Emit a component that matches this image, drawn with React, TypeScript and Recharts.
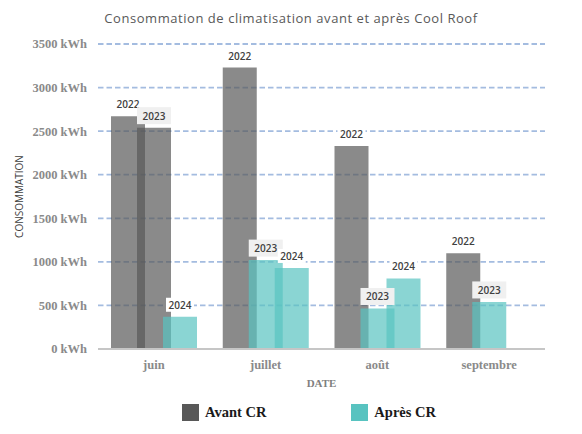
import React from 'react';
import { BarChart, Bar, XAxis, YAxis, CartesianGrid, Cell, LabelList, Legend, Label } from 'recharts';

const months = ['juin', 'juillet', 'août', 'septembre'];
const conso2022 = [2670, 3230, 2330, 1100];
const conso2023 = [2540, 1020, 465, 540];
const conso2024: (number | null)[] = [370, 930, 810, null];
const periode2022 = ['avant', 'avant', 'avant', 'avant'];
const periode2023 = ['avant', 'apres', 'apres', 'apres'];
const periode2024 = ['apres', 'apres', 'apres', 'apres'];
const yTicks = [0, 500, 1000, 1500, 2000, 2500, 3000, 3500];
const legendItems = [
  { key: 'avant', label: 'Avant CR' },
  { key: 'apres', label: 'Après CR' },
];

const COLORS: Record<string, string> = { avant: '#585858', apres: '#58c3c0' };
const BAR_OPACITY = 0.7;

const data = months.map((m, i) => ({
  month: m,
  y2022: conso2022[i],
  y2023: conso2023[i],
  y2024: conso2024[i],
}));

const series = [
  { key: 'y2022', name: '2022', periods: periode2022, bg: '#ffffff', boxH: 14, boxW: 28 },
  { key: 'y2023', name: '2023', periods: periode2023, bg: '#f0f0f0', boxH: 17, boxW: 34 },
  { key: 'y2024', name: '2024', periods: periode2024, bg: '#ffffff', boxH: 14, boxW: 28 },
];

const makeLabel = (text: string, bg: string, boxW: number, boxH: number) => (props: any) => {
  const { x, y, width, value } = props;
  if (value == null) return null;
  const cx = Number(x) + Number(width) / 2;
  const cy = Number(y) - 12;
  return (
    <g>
      <rect x={cx - boxW / 2} y={cy - boxH / 2} width={boxW} height={boxH} fill={bg} />
      <text
        x={cx}
        y={cy}
        textAnchor="middle"
        dominantBaseline="central"
        fontFamily="'Open Sans', sans-serif"
        fontSize={10}
        fontWeight={600}
        fill="#404040"
      >
        {text}
      </text>
    </g>
  );
};

const YTitle = (props: any) => {
  const vb = props.viewBox || { x: 0, y: 44, height: 305 };
  const x = vb.x + 19;
  const y = vb.y + vb.height / 2;
  return (
    <text
      x={x}
      y={y}
      transform={`rotate(-90, ${x}, ${y})`}
      textAnchor="middle"
      dominantBaseline="central"
      fontFamily="'Open Sans', sans-serif"
      fontSize={10}
      fill="#404040"
    >
      CONSOMMATION
    </text>
  );
};

const LegendContent = () => (
  <div style={{ display: 'flex', alignItems: 'center' }}>
    {legendItems.map((it, i) => (
      <div key={it.key} style={{ display: 'flex', alignItems: 'center', marginLeft: i === 0 ? 0 : 85 }}>
        <div style={{ width: 17, height: 17, background: COLORS[it.key] }} />
        <span
          style={{
            marginLeft: 6,
            fontFamily: "'Liberation Serif', serif",
            fontWeight: 700,
            fontSize: 14.5,
            color: '#1a1a1a',
            lineHeight: '17px',
          }}
        >
          {it.label}
        </span>
      </div>
    ))}
  </div>
);

const tickStyle = {
  fontFamily: "'Liberation Serif', serif",
  fontSize: 12.5,
  fontWeight: 700,
  fill: '#8a8a8a',
};

export default function App() {
  return (
    <div style={{ position: 'absolute', left: 0, top: 0, width: 582, height: 434, background: '#ffffff' }}>
      <div
        style={{
          position: 'absolute',
          left: 0,
          top: 8,
          width: 582,
          textAlign: 'center',
          fontFamily: "'Open Sans', sans-serif",
          fontSize: 13,
          letterSpacing: 0.55,
          color: '#595959',
          lineHeight: '20px',
          zIndex: 2,
        }}
      >
        Consommation de climatisation avant et après Cool Roof
      </div>
      <BarChart
        width={582}
        height={434}
        data={data}
        margin={{ top: 44, right: 37, bottom: 55, left: 0 }}
        barSize={34}
        barGap={-8}
      >
        <CartesianGrid horizontal vertical={false} stroke="#a4bce0" strokeWidth={1.8} strokeDasharray="5.5 3" />
        <XAxis
          dataKey="month"
          axisLine={{ stroke: '#c6c6c6', strokeWidth: 2 }}
          tickLine={false}
          tickSize={0}
          tickMargin={11}
          height={30}
          tick={tickStyle}
          interval={0}
        >
          <Label
            value="DATE"
            position="bottom"
            offset={0}
            style={{ fontFamily: "'Liberation Serif', serif", fontSize: 11, fill: '#7f7f7f', fontWeight: 700 }}
          />
        </XAxis>
        <XAxis dataKey="month" xAxisId="lab" hide />
        <YAxis
          width={98}
          domain={[0, 3500]}
          ticks={yTicks}
          tickFormatter={(v: number) => `${v} kWh`}
          axisLine={false}
          tickLine={false}
          tickSize={0}
          tickMargin={11}
          tick={tickStyle}
          interval={0}
        >
          <Label content={<YTitle />} />
        </YAxis>
        {series.map((s) => (
          <Bar key={s.key} dataKey={s.key} name={s.name} isAnimationActive={false} fillOpacity={BAR_OPACITY}>
            {data.map((d, i) => (
              <Cell key={i} fill={COLORS[s.periods[i]]} />
            ))}
          </Bar>
        ))}
        {series.map((s) => (
          <Bar
            key={'lab' + s.key}
            dataKey={s.key}
            xAxisId="lab"
            fill="none"
            isAnimationActive={false}
            legendType="none"
          >
            <LabelList dataKey={s.key} content={makeLabel(s.name, s.bg, s.boxW, s.boxH)} />
          </Bar>
        ))}
        <Legend
          layout="horizontal"
          verticalAlign="middle"
          align="center"
          content={<LegendContent />}
          wrapperStyle={{ position: 'absolute', left: 182, top: 404, width: 300, height: 17 }}
        />
      </BarChart>
    </div>
  );
}
